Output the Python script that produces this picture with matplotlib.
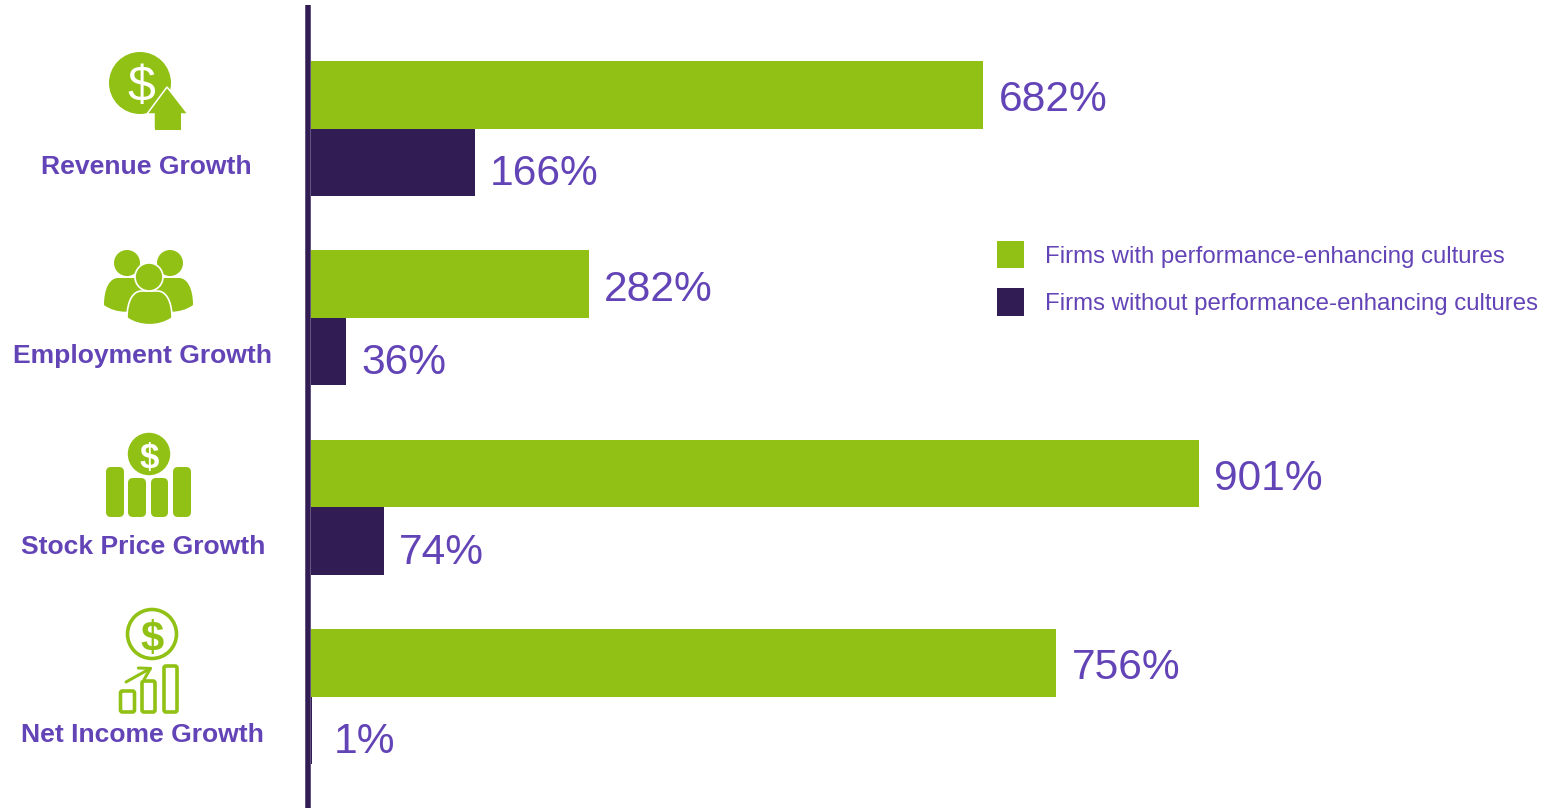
import matplotlib

matplotlib.use("Agg")
import matplotlib.pyplot as plt
import numpy as np
from matplotlib.patches import Circle, FancyArrowPatch, FancyBboxPatch, PathPatch, Polygon, Rectangle
from matplotlib.path import Path

plt.rcParams["font.family"] = ["Liberation Sans", "DejaVu Sans"]

categories = ["Revenue Growth", "Employment Growth", "Stock Price Growth", "Net Income Growth"]
with_culture = [682, 282, 901, 756]
without_culture = [166, 36, 74, 1]
series_names = [
    "Firms with performance-enhancing cultures",
    "Firms without performance-enhancing cultures",
]

GREEN = "#90C114"
DARK = "#321C54"
PURPLE = "#6344B7"
W, H = 1556, 808
PX = 72 / 100  # points per pixel at this dpi

fig = plt.figure(figsize=(W / 100, H / 100), dpi=100, facecolor="white")

# bars live in an axes whose left edge is the baseline of the chart
ax = fig.add_axes([311 / W, 0, 1 - 311 / W, 1])
ax.set_xlim(0, (W - 311) / 0.986)
ax.set_ylim((808 - 128.5) / 189.4, -128.5 / 189.4)
y = np.arange(len(categories))
bar_h = 67.5 / 189.4
green_bars = ax.barh(y - bar_h / 2, with_culture, height=bar_h, color=GREEN, label=series_names[0])
dark_bars = ax.barh(y + bar_h / 2, without_culture, height=bar_h, color=DARK, label=series_names[1])

ax.set_xticks([])
ax.set_yticks([])
for side in ["top", "right", "bottom"]:
    ax.spines[side].set_visible(False)
ax.spines["left"].set_linewidth(5.5 * PX)
ax.spines["left"].set_color(DARK)
ax.spines["left"].set_position(("outward", 2.75 * PX))
ax.spines["left"].set_capstyle("butt")
ax.spines["left"].set_bounds(ax.get_ylim()[0], -123.5 / 189.4)

# value labels sit a little low, the dark row more so
for bars, values, drop in [(green_bars, with_culture, 5.5), (dark_bars, without_culture, 11.5)]:
    for rect, v in zip(bars, values):
        gap = 22 if v < 5 else 15
        ax.annotate(
            f"{v}%",
            (v, rect.get_y() + rect.get_height() / 2),
            xytext=(gap * PX, -drop * PX),
            textcoords="offset points",
            ha="left",
            va="center",
            fontsize=30.6,
            color=PURPLE,
        )

fig.legend(
    handles=[green_bars, dark_bars],
    loc="upper left",
    bbox_to_anchor=(997 / W, 1 - 241 / H),
    frameon=False,
    fontsize=17.28,
    labelcolor=PURPLE,
    borderpad=0,
    borderaxespad=0,
    handlelength=1.12,
    handleheight=1.385,
    handletextpad=0.88,
    labelspacing=0.82,
)

# overlay in pixel units for the row captions and the pictograms
ov = fig.add_axes([0, 0, 1, 1])
ov.set_xlim(0, W)
ov.set_ylim(H, 0)
ov.axis("off")

caption_x = [41, 13, 21, 21]
caption_base = [174, 363, 554, 742]
for name, cx, cy in zip(categories, caption_x, caption_base):
    ov.text(cx, cy, name, fontsize=19.05, fontweight="bold", color=PURPLE, ha="left", va="baseline")


def dollar(x, yc, size, color="white", weight="bold"):
    ov.text(x, yc, "$", fontsize=size, fontweight=weight, color=color, ha="center", va="center_baseline")


def person_body(x0, x1, y0, y1, edge="none"):
    xm = (x0 + x1) / 2
    verts = [
        (x0, y1 - 6),
        (x0, y0 + 10), (x0 + 6, y0), (xm - 8, y0),
        (xm + 8, y0),
        (x1 - 6, y0), (x1, y0 + 10), (x1, y1 - 6),
        (xm + 10, y1 + 3), (xm - 10, y1 + 3), (x0, y1 - 6),
        (x0, y1 - 6),
    ]
    codes = [Path.MOVETO, Path.CURVE4, Path.CURVE4, Path.CURVE4, Path.LINETO,
             Path.CURVE4, Path.CURVE4, Path.CURVE4,
             Path.CURVE4, Path.CURVE4, Path.CURVE4, Path.CLOSEPOLY]
    ov.add_patch(PathPatch(Path(verts, codes), fc=GREEN, ec=edge, lw=1.2))


def rounded_bar(x0, x1, y0, y1, r=5, fill=True, lw=0):
    ov.add_patch(FancyBboxPatch((x0 + r, y0 + r), x1 - x0 - 2 * r, y1 - y0 - 2 * r,
                                boxstyle=f"round,pad={r},rounding_size={r}",
                                fc=GREEN if fill else "none",
                                ec=GREEN if lw else "none", lw=lw))


# revenue: coin with an up arrow
ov.add_patch(Circle((140, 83), 31, fc=GREEN, ec="none"))
dollar(141, 83, 36, weight="normal")
ov.add_patch(Polygon([(167, 87), (188, 114), (181, 114), (181, 129), (154, 129), (154, 114), (147, 114)],
                     closed=True, fc=GREEN, ec="white", lw=1.1))
ov.add_patch(Rectangle((154.6, 112), 26, 17.6, fc=GREEN, ec="none"))

# employment: three people
ov.add_patch(Circle((127, 263), 13, fc=GREEN, ec="none"))
ov.add_patch(Circle((170, 263), 13, fc=GREEN, ec="none"))
person_body(104, 148, 278, 311)
person_body(149, 193, 278, 311)
person_body(127, 172, 291, 324, edge="white")
ov.add_patch(Circle((149, 277), 14, fc=GREEN, ec="white", lw=1.2))

# stock price: coin above four columns
rounded_bar(106, 124, 467, 517)
rounded_bar(128, 146, 478, 517)
rounded_bar(151, 168, 478, 517)
rounded_bar(173, 191, 467, 517)
ov.add_patch(Circle((149, 454), 22, fc=GREEN, ec="white", lw=1.1))
dollar(149, 455, 25)

# net income: outlined coin, columns and trend arrow
ov.add_patch(Circle((152, 634), 24.5, fc="none", ec=GREEN, lw=3.6 * PX))
dollar(152, 635, 30, color=GREEN)
for x0, x1, y0 in [(120.5, 134.5, 691), (142, 155, 681), (164, 177, 666)]:
    rounded_bar(x0, x1, y0, 712, r=2, fill=False, lw=3.6 * PX)
ov.add_patch(FancyArrowPatch((126, 682), (153, 667), arrowstyle="->,head_length=5,head_width=3",
                             mutation_scale=1.5, color=GREEN, lw=3 * PX, shrinkA=0, shrinkB=0))

fig.savefig("out.png", dpi=100)
